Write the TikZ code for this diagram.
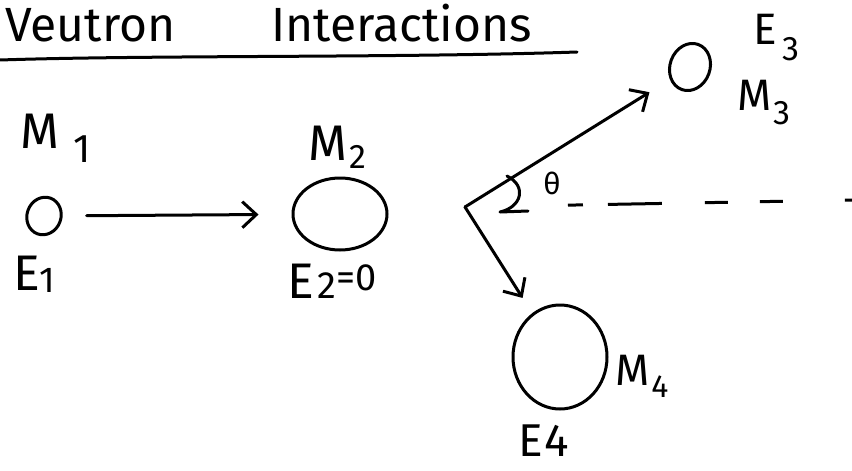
\documentclass[tikz,border=0pt]{standalone}
\usepackage{fontspec}
\setmainfont{Fira Sans}
\usetikzlibrary{arrows.meta,shapes.geometric}
\newcommand\lowsub[3]{\raisebox{-#2pt}{\fontsize{#3}{#3}\selectfont #1}}
\begin{document}
\begin{tikzpicture}[x=1pt,y=-1pt,
  ln/.style={line width=3pt, line cap=round, line join=round},
  ball/.style={ln, draw, ellipse, inner sep=0pt},
  arr/.style={ln, -{Straight Barb[length=14pt,width=26pt,line width=3pt]}},
  lab/.style={inner sep=0pt, anchor=base west},
  big/.style={font=\fontsize{50}{50}\selectfont},
  mid/.style={font=\fontsize{44}{44}\selectfont}]
\useasboundingbox (0,0) rectangle (852,471);
% title
\node[lab, font=\fontsize{48}{48}\selectfont] (title) at (5,41) {Veutron\hspace{96pt}Interactions};
\coordinate (ulA) at (0,60);
\coordinate (ulB) at (577,52);
\draw[ln] (ulA) .. controls (150,55) and (400,58) .. (ulB);
% particles
\node[ball, minimum width=34pt, minimum height=38pt, rotate=-20] (m1) at (44,216) {};
\node[ball, minimum width=94pt, minimum height=72pt] (m2) at (340,214) {};
\node[ball, minimum width=40pt, minimum height=48pt, rotate=-20] (m3) at (690,67) {};
\node[ball, minimum width=94pt, minimum height=104pt] (m4) at (560,357) {};
\coordinate (c) at (465,207);
\coordinate (dend) at (853,200);
% labels
\node[lab, big] (lm1) at (20,148) {M\hspace{14pt}\lowsub{1}{14}{40}};
\node[lab, big] (lm2) at (308,160) {M\hspace{2pt}\lowsub{2}{8}{34}};
\node[lab, big] (le1) at (13,290) {E\lowsub{1}{2}{36}};
\node[lab, big] (le2) at (287,298) {E\hspace{4pt}{\fontsize{38}{38}\selectfont 2\raisebox{8pt}{=0}}};
\node[lab, mid] (le3) at (753,45) {E\hspace{6pt}\lowsub{3}{16}{34}};
\node[lab, mid] (lm3) at (737,110) {M\hspace{2pt}\lowsub{3}{14}{34}};
\node[lab, mid] (lm4) at (615,385) {M\hspace{2pt}\lowsub{4}{12}{32}};
\node[lab, font=\fontsize{46}{46}\selectfont] (le4) at (518,456) {E\hspace{2pt}4};
\node[inner sep=0pt, font=\fontsize{30}{30}\selectfont] (th) at (552,183) {θ};
% connectors
\draw[arr, shorten <=24pt, shorten >=33pt] (m1) -- (m2);
\draw[arr, shorten >=24pt] (c) -- (m3);
\draw[arr, shorten >=18pt] (c) -- (m4);
\draw[ln, line cap=butt, dash pattern=on 0pt off 103pt on 15pt off 25pt on 54pt off 43pt on 23pt off 32pt on 23pt off 62pt on 8pt off 20pt] (c) -- (dend);
% angle mark
\draw[ln] (507,176) .. controls (527,186) and (522,207) .. (500,212) -- (528,211);
\end{tikzpicture}
\end{document}
